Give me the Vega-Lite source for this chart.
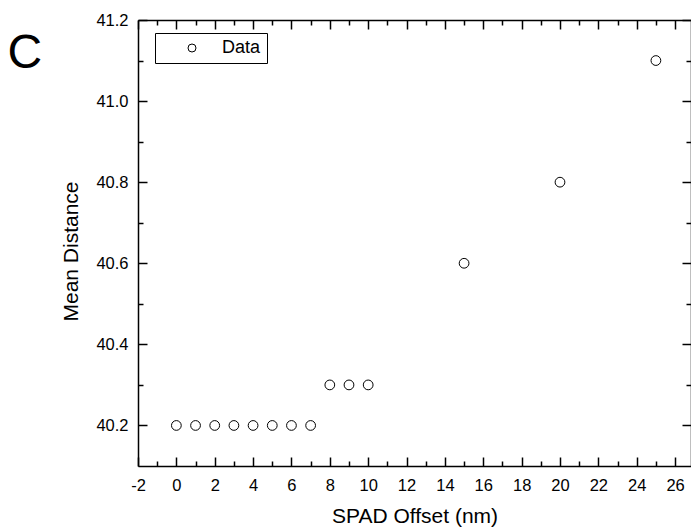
{
  "$schema": "https://vega.github.io/schema/vega-lite/v6.json",
  "width": 553,
  "height": 446,
  "autosize": {"type": "none"},
  "padding": {"left": 138, "top": 20, "right": 0, "bottom": 64},
  "background": "white",
  "title": {"text": "C", "anchor": "end", "frame": "group", "orient": "left", "angle": 0, "align": "right", "baseline": "top", "fontSize": 48, "font": "Liberation Sans", "fontWeight": "normal", "color": "black", "offset": -16, "dy": 10},
  "config": {
    "view": {"stroke": null},
    "axis": {
      "domainColor": "black", "domainWidth": 1.5, "tickColor": "black", "tickWidth": 1.5,
      "labelColor": "black", "labelFont": "Liberation Sans", "labelFontSize": 16.5,
      "titleFont": "Liberation Sans", "titleFontSize": 21, "titleFontWeight": "normal", "titleColor": "black",
      "grid": false, "labelFlush": false, "labelOverlap": false
    }
  },
  "data": {"values": [
    {"x": 0, "y": 40.2, "series": "Data"},
    {"x": 1, "y": 40.2, "series": "Data"},
    {"x": 2, "y": 40.2, "series": "Data"},
    {"x": 3, "y": 40.2, "series": "Data"},
    {"x": 4, "y": 40.2, "series": "Data"},
    {"x": 5, "y": 40.2, "series": "Data"},
    {"x": 6, "y": 40.2, "series": "Data"},
    {"x": 7, "y": 40.2, "series": "Data"},
    {"x": 8, "y": 40.3, "series": "Data"},
    {"x": 9, "y": 40.3, "series": "Data"},
    {"x": 10, "y": 40.3, "series": "Data"},
    {"x": 15, "y": 40.6, "series": "Data"},
    {"x": 20, "y": 40.8, "series": "Data"},
    {"x": 25, "y": 41.1, "series": "Data"}
  ]},
  "layer": [
    {
      "mark": {"type": "point", "shape": "circle", "filled": false, "stroke": "black", "strokeWidth": 1, "size": 95, "opacity": 1},
      "encoding": {
        "x": {"field": "x", "type": "quantitative", "scale": {"domain": [-2, 26.83], "nice": false, "zero": false},
          "axis": {"orient": "bottom", "values": [-2, 0, 2, 4, 6, 8, 10, 12, 14, 16, 18, 20, 22, 24, 26], "tickSize": -9, "labelPadding": 20, "labelExpr": "'' + datum.value", "title": "SPAD Offset (nm)", "titlePadding": 12}},
        "y": {"field": "y", "type": "quantitative", "scale": {"domain": [40.1, 41.2], "nice": false, "zero": false},
          "axis": {"orient": "left", "values": [40.2, 40.4, 40.6, 40.8, 41.0, 41.2], "tickSize": -9, "labelPadding": 19, "labelExpr": "format(datum.value, '.1f')", "title": "Mean Distance", "titlePadding": 14, "titleY": 231}},
        "shape": {"field": "series", "type": "nominal", "scale": {"range": ["circle"]},
          "legend": {"title": null, "orient": "none", "legendX": 17, "legendY": 13, "strokeColor": "black", "padding": 6, "symbolOffset": 22, "labelOffset": 21, "symbolSize": 64, "symbolType": "circle", "symbolStrokeColor": "black", "symbolFillColor": "transparent", "symbolStrokeWidth": 1, "labelFontSize": 18, "labelFont": "Liberation Sans", "labelColor": "black"}}
      }
    },
    {
      "mark": {"type": "point", "opacity": 0},
      "encoding": {
        "x": {"field": "x", "type": "quantitative", "scale": {"domain": [-2, 26.83], "nice": false, "zero": false},
          "axis": {"orient": "bottom", "values": [-1, 1, 3, 5, 7, 9, 11, 13, 15, 17, 19, 21, 23, 25], "tickSize": -5, "labels": false, "domain": false, "title": null}},
        "y": {"field": "y", "type": "quantitative", "scale": {"domain": [40.1, 41.2], "nice": false, "zero": false},
          "axis": {"orient": "left", "values": [40.3, 40.5, 40.7, 40.9, 41.1], "tickSize": -5, "labels": false, "domain": false, "title": null}}
      }
    },
    {
      "mark": {"type": "point", "opacity": 0},
      "encoding": {
        "x": {"field": "x", "type": "quantitative", "scale": {"domain": [-2, 26.83], "nice": false, "zero": false},
          "axis": {"orient": "top", "values": [-2, 0, 2, 4, 6, 8, 10, 12, 14, 16, 18, 20, 22, 24, 26], "tickSize": -9, "labels": false, "domain": true, "title": null}},
        "y": {"field": "y", "type": "quantitative", "scale": {"domain": [40.1, 41.2], "nice": false, "zero": false},
          "axis": {"orient": "right", "values": [40.2, 40.4, 40.6, 40.8, 41.0, 41.2], "tickSize": -9, "labels": false, "domain": true, "title": null}}
      }
    },
    {
      "mark": {"type": "point", "opacity": 0},
      "encoding": {
        "x": {"field": "x", "type": "quantitative", "scale": {"domain": [-2, 26.83], "nice": false, "zero": false},
          "axis": {"orient": "top", "values": [-1, 1, 3, 5, 7, 9, 11, 13, 15, 17, 19, 21, 23, 25], "tickSize": -5, "labels": false, "domain": false, "title": null}},
        "y": {"field": "y", "type": "quantitative", "scale": {"domain": [40.1, 41.2], "nice": false, "zero": false},
          "axis": {"orient": "right", "values": [40.3, 40.5, 40.7, 40.9, 41.1], "tickSize": -5, "labels": false, "domain": false, "title": null}}
      }
    }
  ],
  "resolve": {"axis": {"x": "independent", "y": "independent"}}
}
